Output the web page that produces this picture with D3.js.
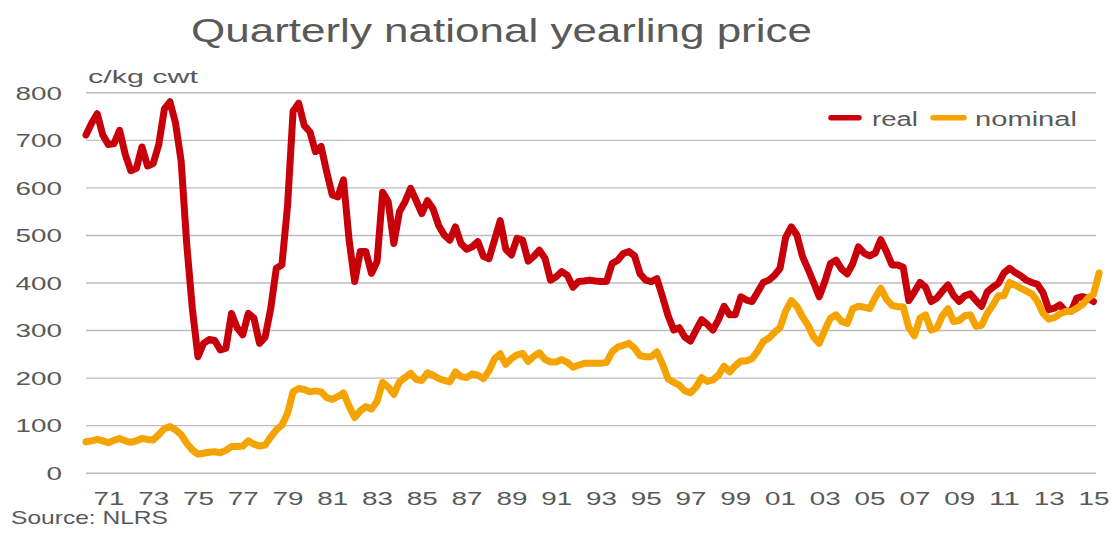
<!DOCTYPE html>
<html>
<head>
<meta charset="utf-8">
<script src="https://cdn.jsdelivr.net/npm/d3@7"></script>
<style>
  body { margin: 0; background: #fff; }
  text { font-family: "Liberation Sans", Arial, sans-serif; fill: #595959; }
</style>
</head>
<body>
<svg id="chart" width="1111" height="533"></svg>
<script>
// quarterly series, 1970 Q1 onwards (c/kg cwt)
const startYear = 1970;

const realPrice = [
  710, 735, 755, 710,  690, 692, 720, 670,  635, 640, 685, 645,  650, 690, 765, 780,
  735, 655, 480, 345,  244, 272, 280, 278,  258, 262, 335, 305,  290, 335, 325, 272,
  285, 345, 430, 437,  560, 760, 777, 730,  717, 675, 686, 633,  584, 580, 616, 490,
  402, 465, 465, 419,  444, 590, 570, 482,  549, 570, 598, 572,  545, 572, 555, 520,
  500, 489, 517, 482,  470, 475, 486, 455,  450, 490, 530, 470,  458, 493, 489, 445,
  455, 468, 451, 405,  412, 423, 415, 390,  402, 403, 405, 403,  402, 402, 440, 447,
  461, 465, 456, 418,  405, 402, 408, 370,  330, 300, 305, 285,  277, 300, 322, 312,
  300, 322, 350, 332,  332, 370, 363, 360,  380, 400, 405, 415,  430, 495, 517, 500,
  455, 428, 400, 370,  402, 440, 447, 428,  418, 440, 475, 462,  456, 462, 490, 465,
  437, 437, 432, 362,  380, 400, 390, 360,  367, 382, 395, 373,  360, 372, 376, 362,
  350, 380, 390, 398,  420, 430, 421, 414,  405, 400, 396, 378,  343, 346, 353, 340,
  339, 367, 370, 367,  360
];

const nominalPrice = [
   65,  67,  70,  67,   63,  68,  72,  67,   64,  67,  72,  70,   69,  80,  93,  97,
   90,  80,  62,  48,   39,  41,  43,  44,   42,  47,  55,  55,   56,  67,  60,  56,
   58,  75,  90, 100,  125, 170, 177, 175,  170, 172, 170, 158,  154, 160, 168, 140,
  116, 130, 139, 134,  150, 190, 180, 165,  191, 200, 209, 196,  194, 210, 205, 198,
  194, 191, 212, 202,  200, 208, 205, 198,  214, 240, 250, 228,  240, 248, 251, 234,
  245, 252, 238, 233,  233, 238, 232, 222,  226, 230, 230, 230,  230, 232, 254, 264,
  268, 272, 262, 246,  244, 244, 254, 228,  197, 190, 184, 172,  168, 180, 200, 192,
  195, 205, 224, 212,  225, 235, 235, 240,  256, 276, 283, 295,  305, 340, 362, 350,
  328, 310, 285, 272,  300, 325, 332, 318,  314, 345, 350, 348,  345, 368, 388, 365,
  352, 349, 349, 305,  288, 325, 332, 300,  304, 330, 345, 318,  320, 330, 332, 308,
  310, 335, 352, 372,  372, 400, 395, 388,  382, 376, 360, 335,  323, 326, 334, 339,
  339, 346, 353, 367,  375, 420
];

const tickYears = [1971, 1973, 1975, 1977, 1979, 1981, 1983, 1985, 1987, 1989, 1991, 1993,
                   1995, 1997, 1999, 2001, 2003, 2005, 2007, 2009, 2011, 2013, 2015];
const yTicks = [0, 100, 200, 300, 400, 500, 600, 700, 800];

const seriesNames = ["real", "nominal"];
const seriesColors = ["#c8000a", "#f5a300"];

const svg = d3.select("#chart");

const plot = {left: 86, right: 1096, top: 92.3, bottom: 472.7};

const x = d3.scaleLinear()
    .domain([1970, 2015])
    .range([plot.left, 1093.5]);

const y = d3.scaleLinear()
    .domain([0, 800])
    .range([plot.bottom, plot.top]);

// stretch text to the wide look of the original
function stretch(sel, w) {
    sel.attr("textLength", w).attr("lengthAdjust", "spacingAndGlyphs");
}

// y gridlines + labels
const yAxis = svg.append("g")
    .attr("transform", "translate(" + plot.left + ",0)")
    .call(d3.axisLeft(y)
        .tickValues(yTicks)
        .tickSize(-(plot.right - plot.left))
        .tickPadding(24));
yAxis.select(".domain").remove();
yAxis.selectAll(".tick line")
    .attr("stroke", "#bcbcbc")
    .attr("stroke-width", 1.4);
yAxis.selectAll(".tick text")
    .attr("dy", null)
    .attr("y", 6.8)
    .style("font-size", "18.6px")
    .style("fill", "#595959")
    .style("font-family", "Liberation Sans, Arial, sans-serif")
    .each(function(d) {
        stretch(d3.select(this), String(d).length * 15.5);
    });

// x labels
const xAxis = svg.append("g")
    .attr("transform", "translate(0," + plot.bottom + ")")
    .call(d3.axisBottom(x)
        .tickValues(tickYears)
        .tickSize(0)
        .tickFormat(d => String(d).slice(2)));
xAxis.select(".domain").remove();
xAxis.selectAll(".tick text")
    .attr("dy", null)
    .attr("y", 32.3)
    .style("font-size", "18.6px")
    .style("fill", "#595959")
    .style("font-family", "Liberation Sans, Arial, sans-serif")
    .each(function() { stretch(d3.select(this), 31); });

// lines
const seriesData = [realPrice, nominalPrice];
const line = d3.line()
    .x((d, i) => x(startYear + i / 4))
    .y(d => y(d));

svg.selectAll(".series")
    .data(seriesData)
    .join("path")
    .attr("class", "series")
    .attr("d", line)
    .attr("fill", "none")
    .attr("stroke", (d, i) => seriesColors[i])
    .attr("stroke-width", 7)
    .attr("stroke-linejoin", "round")
    .attr("stroke-linecap", "round");

// title
svg.append("text")
    .attr("x", 191)
    .attr("y", 42)
    .style("font-size", "33.5px")
    .text("Quarterly national yearling price")
    .call(stretch, 621);

// unit label
svg.append("text")
    .attr("x", 88)
    .attr("y", 83)
    .style("font-size", "18.5px")
    .text("c/kg cwt")
    .call(stretch, 110);

// source
svg.append("text")
    .attr("x", 11)
    .attr("y", 524)
    .style("font-size", "19px")
    .text("Source: NLRS")
    .call(stretch, 157);

// legend
const legendPos = [
    {x1: 831, x2: 859, tx: 872, tw: 46},
    {x1: 933, x2: 964, tx: 975, tw: 102}
];
const legend = svg.append("g");
legend.selectAll("line")
    .data(seriesNames)
    .join("line")
    .attr("x1", (d, i) => legendPos[i].x1)
    .attr("x2", (d, i) => legendPos[i].x2)
    .attr("y1", 117.7)
    .attr("y2", 117.7)
    .attr("stroke", (d, i) => seriesColors[i])
    .attr("stroke-width", 5.5)
    .attr("stroke-linecap", "round");
legend.selectAll("text")
    .data(seriesNames)
    .join("text")
    .attr("x", (d, i) => legendPos[i].tx)
    .attr("y", 125.5)
    .style("font-size", "20px")
    .text(d => d)
    .each(function(d, i) { stretch(d3.select(this), legendPos[i].tw); });
</script>
</body>
</html>
